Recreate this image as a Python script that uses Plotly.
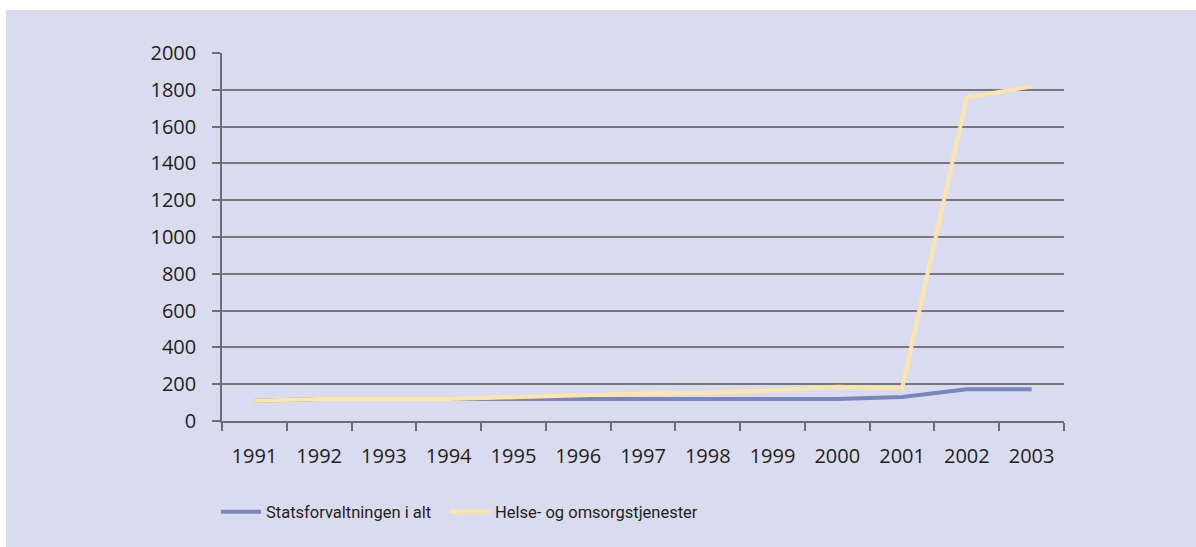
import plotly.graph_objects as go

years = ["1991", "1992", "1993", "1994", "1995", "1996", "1997",
         "1998", "1999", "2000", "2001", "2002", "2003"]
statsforvaltningen = [110, 120, 120, 120, 118, 120, 120, 120, 120, 120, 131, 172, 172]
helse_omsorg = [110, 120, 120, 120, 129, 140, 149, 153, 166, 186, 177, 1760, 1818]

W, H = 1196, 547
L, R, T, B = 222, 132, 53, 126
pw, ph = W - L - R, H - T - B

fig = go.Figure()
fig.add_trace(go.Scatter(x=years, y=statsforvaltningen, mode="lines",
                         name="Statsforvaltningen i alt", legend="legend",
                         line=dict(color="#7a86bb", width=4)))
fig.add_trace(go.Scatter(x=years, y=helse_omsorg, mode="lines",
                         name="Helse- og omsorgstjenester", legend="legend2",
                         line=dict(color="#ffe6a8", width=4)))

bg = "#d9dcee"
fig.add_shape(type="rect", xref="paper", yref="paper", layer="below",
              x0=(6 - L) / pw, x1=(W + 5 - L) / pw,
              y0=-(H + 5 - (T + ph)) / ph, y1=(T + ph - 10) / ph,
              fillcolor=bg, line=dict(width=0))

leg_common = dict(orientation="h", xanchor="left",
                  y=-(512 - (T + ph)) / ph, yanchor="middle",
                  bgcolor="rgba(0,0,0,0)",
                  font=dict(family="Roboto", size=16.5),
                  itemwidth=40)

fig.update_layout(
    width=W, height=H,
    margin=dict(l=L, r=R, t=T, b=B),
    paper_bgcolor="white",
    plot_bgcolor="rgba(0,0,0,0)",
    font=dict(family="Open Sans", size=20, color="#231f20"),
    showlegend=True,
    legend=dict(x=(216 - L) / pw, **leg_common),
    legend2=dict(x=(445 - L) / pw, **leg_common),
    xaxis=dict(type="category", range=[-0.5, 12.5], showgrid=False,
               showline=True, linecolor="#6d6e71", linewidth=1.5,
               ticks="outside", ticklen=8, tickcolor="#6d6e71",
               tickson="boundaries", tickwidth=1.5, ticklabelstandoff=16),
    yaxis=dict(range=[0, 2000], dtick=200, showgrid=True,
               gridcolor="#77787b", gridwidth=1.5, zeroline=False,
               showline=True, linecolor="#6d6e71", linewidth=1.5,
               ticks="outside", ticklen=8, tickcolor="#6d6e71",
               tickwidth=1.5, ticklabelstandoff=12, fixedrange=True),
)

fig.write_html("out.html", config={"displayModeBar": False},
               post_script="document.body.style.margin='0px';")
